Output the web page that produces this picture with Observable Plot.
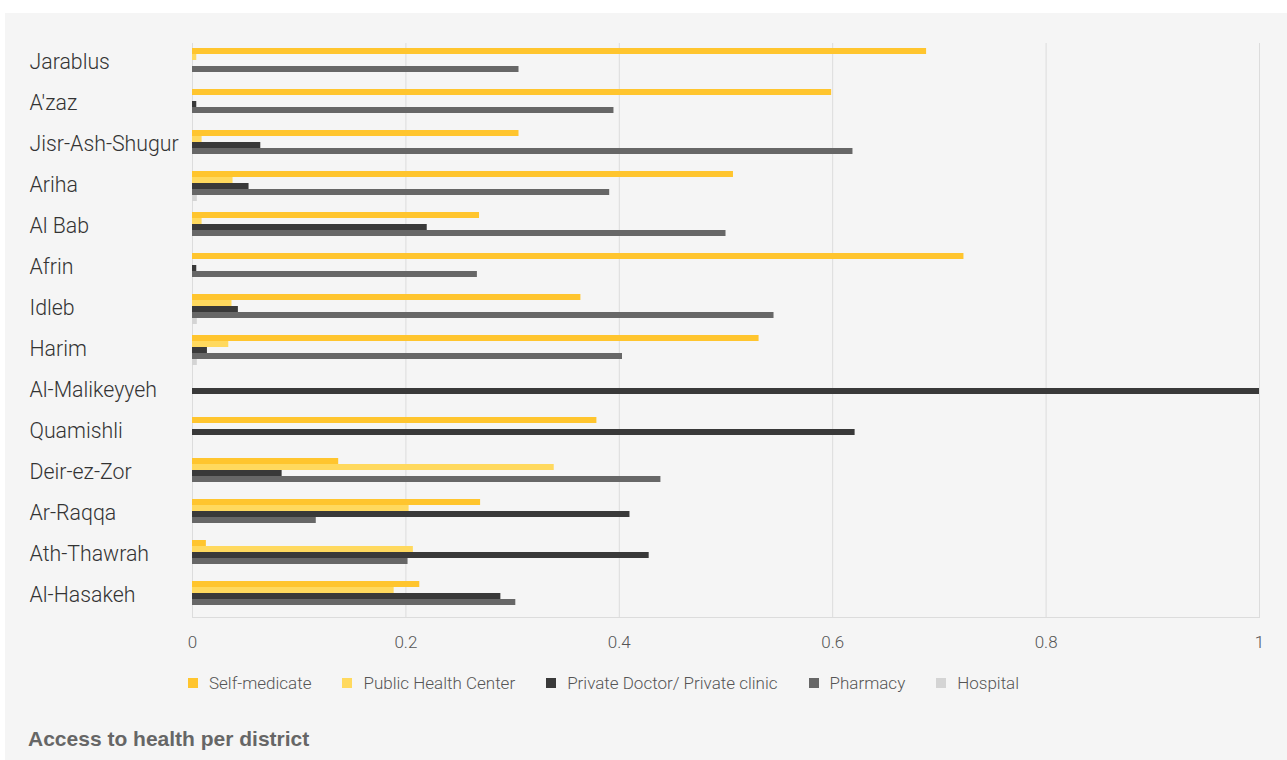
<!DOCTYPE html>
<html>
<head>
<meta charset="utf-8">
<script src="https://cdn.jsdelivr.net/npm/d3@7"></script>
<script src="https://cdn.jsdelivr.net/npm/@observablehq/plot@0.6"></script>
<style>
  html, body { margin: 0; padding: 0; background: #ffffff; }
  #panel { position: absolute; left: 5px; top: 13px; width: 1282px; height: 747px; background: #f5f5f5; font-family: Roboto, "Noto Sans", sans-serif; }
  #chart { position: absolute; left: 0; top: 0; }
  #legend { position: absolute; left: 183px; top: 660px; display: flex; align-items: center; font-size: 17px; font-weight: 300; color: #555; }
  #legend .item { display: flex; align-items: center; margin-right: 31px; }
  #legend .sw { width: 10px; height: 10px; margin-right: 11px; }
  #title { position: absolute; left: 23px; top: 714px; font-size: 21px; font-weight: 700; color: #666; font-family: "Liberation Sans", Arial, sans-serif; }
</style>
</head>
<body>
<div id="panel">
  <div id="chart"></div>
  <div id="legend"></div>
  <div id="title">Access to health per district</div>
</div>
<script>
const districts = ["Jarablus", "A'zaz", "Jisr-Ash-Shugur", "Ariha", "Al Bab", "Afrin", "Idleb", "Harim", "Al-Malikeyyeh", "Quamishli", "Deir-ez-Zor", "Ar-Raqqa", "Ath-Thawrah", "Al-Hasakeh"];
const categories = ["Self-medicate", "Public Health Center", "Private Doctor/ Private clinic", "Pharmacy", "Hospital"];
const colors = ["#ffc52e", "#ffd95e", "#393939", "#676767", "#d4d4d4"];

const selfMedicate  = [0.688, 0.599, 0.306, 0.507, 0.269, 0.723, 0.364, 0.531, 0, 0.379, 0.137, 0.270, 0.013, 0.213];
const publicHealth  = [0.004, 0, 0.009, 0.038, 0.009, 0, 0.037, 0.034, 0, 0, 0.339, 0.203, 0.207, 0.189];
const privateDoctor = [0, 0.004, 0.064, 0.053, 0.220, 0.004, 0.043, 0.014, 1.0, 0.621, 0.084, 0.410, 0.428, 0.289];
const pharmacy      = [0.306, 0.395, 0.619, 0.391, 0.500, 0.267, 0.545, 0.403, 0, 0, 0.439, 0.116, 0.202, 0.303];
const hospital      = [0, 0, 0, 0.0045, 0, 0, 0.0045, 0.0045, 0, 0, 0, 0, 0, 0];

const xTicks = [0, 0.2, 0.4, 0.6, 0.8, 1];

const series = [selfMedicate, publicHealth, privateDoctor, pharmacy, hospital];
const data = districts.flatMap((d, i) => categories.map((c, j) => ({district: d, category: c, value: series[j][i]})));

const chart = Plot.plot({
  width: 1282,
  height: 645,
  marginLeft: 187,
  marginRight: 28,
  marginTop: 29,
  marginBottom: 40,
  style: {background: "transparent", fontFamily: "Roboto, 'Noto Sans', sans-serif", fontWeight: 300, color: "#333"},
  x: {domain: [0, 1]},
  fy: {domain: districts, padding: 0},
  y: {domain: categories, paddingInner: 0, paddingOuter: 0.77, align: 0.45, axis: null},
  color: {domain: categories, range: colors},
  marks: [
    Plot.gridX(xTicks, {stroke: "#dcdcdc", strokeOpacity: 1, strokeWidth: 1}),
    Plot.frame({anchor: "bottom", facetAnchor: "bottom", stroke: "#dcdcdc"}),
    Plot.barX(data, {fy: "district", y: "category", x: "value", fill: "category"}),
    Plot.axisX(xTicks, {tickSize: 0, tickPadding: 18, tickFormat: d => String(d), fontSize: 17, fill: "#555", label: null}),
    Plot.axisFy({anchor: "left", tickSize: 0, textAnchor: "start", dx: -154, dy: -2, fontSize: 21.3, fill: "#333", label: null})
  ]
});
document.getElementById("chart").appendChild(chart);

const legend = document.getElementById("legend");
categories.forEach((c, i) => {
  const item = document.createElement("div");
  item.className = "item";
  const sw = document.createElement("span");
  sw.className = "sw";
  sw.style.background = colors[i];
  const t = document.createElement("span");
  t.textContent = c;
  item.appendChild(sw);
  item.appendChild(t);
  legend.appendChild(item);
});
</script>
</body>
</html>
